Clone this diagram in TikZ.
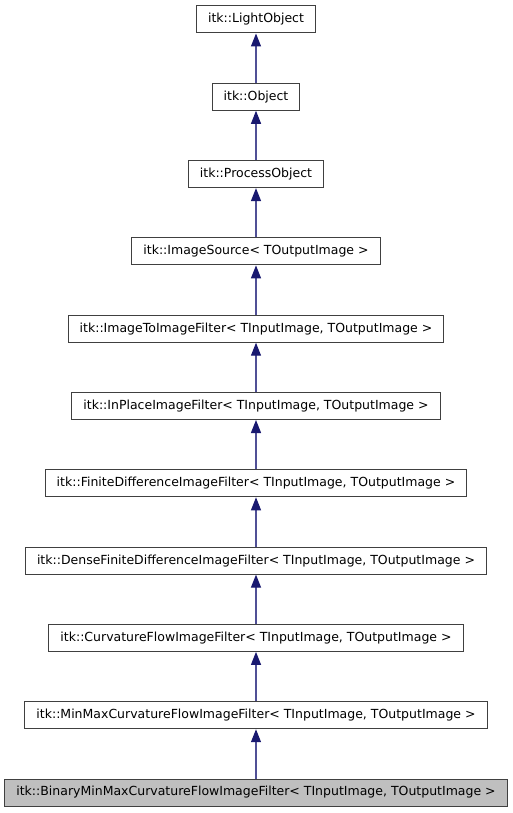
\documentclass[tikz,border=0pt]{standalone}
\usepackage{fontspec}
\setmainfont{DejaVu Sans}
\usetikzlibrary{arrows.meta}
\definecolor{edgeblue}{RGB}{80,80,150}
\definecolor{tipblue}{RGB}{25,25,112}

\begin{document}
\begin{tikzpicture}[
    x=1pt, y=-1pt,
    % GLOBAL CFG
    font=\fontsize{12.5}{14}\selectfont,
    % Styles
    cls/.style={% For the class boxes
        rectangle,
        draw=black!75,
        line width=1pt,
        fill=white,
        minimum height=27pt,
        inner xsep=11.5pt,
        inner ysep=0pt,
        },
    current/.style={% For the class of this page
        cls,
        fill=black!25,
        },
    inherit/.style={% Arrows to the base class
        draw=edgeblue,
        line width=1.2pt,
        -{Triangle[length=13pt, width=10pt, fill=tipblue, color=tipblue]},
        },
    ]

    \useasboundingbox (0,0) rectangle (512,813);

    \newcommand{\rowsep}{77.3}

    % Draw the classes
    \node [cls] (light) at (256,19.5) {itk::LightObject};
    \node [cls] (object) at (256,19.5+\rowsep) {itk::Object};
    \node [cls] (process) at (256,19.5+2*\rowsep) {itk::ProcessObject};
    \node [cls] (source) at (256,19.5+3*\rowsep) {itk::ImageSource< TOutputImage >};
    \node [cls] (imtoim) at (256,19.5+4*\rowsep) {itk::ImageToImageFilter< TInputImage, TOutputImage >};
    \node [cls] (inplace) at (256,19.5+5*\rowsep) {itk::InPlaceImageFilter< TInputImage, TOutputImage >};
    \node [cls] (findiff) at (256,19.5+6*\rowsep) {itk::FiniteDifferenceImageFilter< TInputImage, TOutputImage >};
    \node [cls] (dense) at (256,19.5+7*\rowsep) {itk::DenseFiniteDifferenceImageFilter< TInputImage, TOutputImage >};
    \node [cls] (curv) at (256,19.5+8*\rowsep) {itk::CurvatureFlowImageFilter< TInputImage, TOutputImage >};
    \node [cls] (minmax) at (256,19.5+9*\rowsep) {itk::MinMaxCurvatureFlowImageFilter< TInputImage, TOutputImage >};
    \node [current] (binary) at (256,19.5+10*\rowsep) {itk::BinaryMinMaxCurvatureFlowImageFilter< TInputImage, TOutputImage >};

    % Draw the inheritance arrows
    \draw [inherit] (object) -- (light);
    \draw [inherit] (process) -- (object);
    \draw [inherit] (source) -- (process);
    \draw [inherit] (imtoim) -- (source);
    \draw [inherit] (inplace) -- (imtoim);
    \draw [inherit] (findiff) -- (inplace);
    \draw [inherit] (dense) -- (findiff);
    \draw [inherit] (curv) -- (dense);
    \draw [inherit] (minmax) -- (curv);
    \draw [inherit] (binary) -- (minmax);

\end{tikzpicture}
\end{document}
